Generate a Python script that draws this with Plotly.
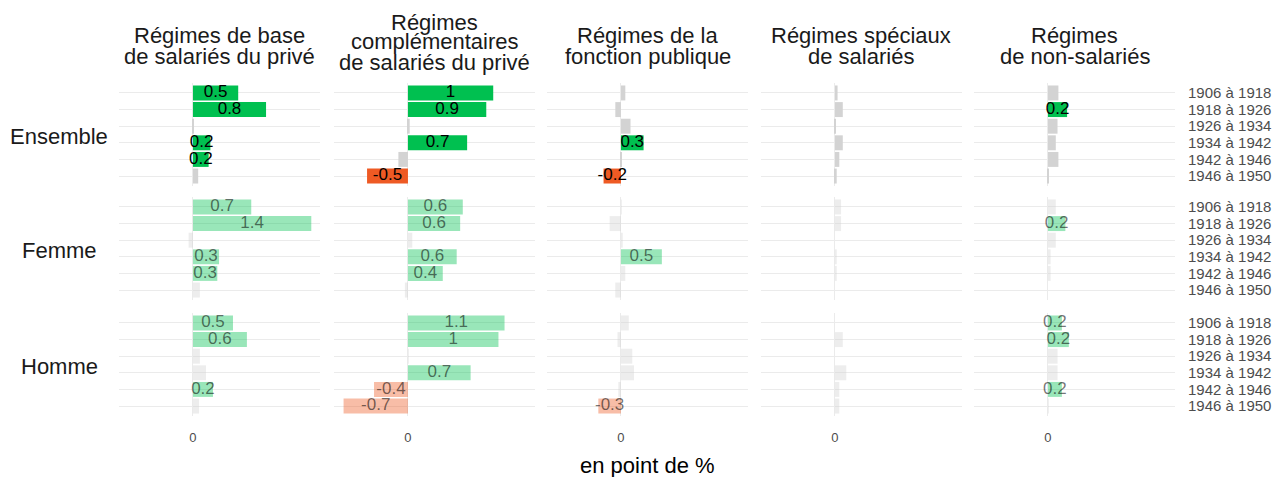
import plotly.graph_objects as go

generations = ["1906 à 1918", "1918 à 1926", "1926 à 1934", "1934 à 1942", "1942 à 1946", "1946 à 1950"]
regimes = ["Régimes de base\nde salariés du privé",
           "Régimes\ncomplémentaires\nde salariés du privé",
           "Régimes de la\nfonction publique",
           "Régimes spéciaux\nde salariés",
           "Régimes\nde non-salariés"]
groups = ["Ensemble", "Femme", "Homme"]

# values (en point de %) per group, per regime, per generation
ens_base = [0.52, 0.84, 0.01, 0.20, 0.18, 0.06]
ens_compl = [0.98, 0.90, 0.02, 0.68, -0.11, -0.47]
ens_fp = [0.05, -0.065, 0.11, 0.26, 0.01, -0.20]
ens_spec = [0.03, 0.09, 0.005, 0.09, 0.05, 0.02]
ens_ns = [0.12, 0.22, 0.11, 0.09, 0.12, 0.01]

fem_base = [0.67, 1.36, -0.05, 0.30, 0.28, 0.08]
fem_compl = [0.63, 0.60, 0.05, 0.56, 0.40, -0.035]
fem_fp = [0.01, -0.13, 0.02, 0.47, 0.05, -0.065]
fem_spec = [0.07, 0.07, 0.0, 0.02, 0.02, 0.0]
fem_ns = [0.09, 0.20, 0.09, 0.03, 0.03, 0.0]

hom_base = [0.46, 0.62, 0.08, 0.15, 0.23, 0.07]
hom_compl = [1.11, 1.04, 0.01, 0.72, -0.39, -0.74]
hom_fp = [0.09, -0.04, 0.13, 0.15, -0.03, -0.26]
hom_spec = [0.0, 0.09, 0.0, 0.13, 0.05, 0.05]
hom_ns = [0.16, 0.24, 0.11, 0.11, 0.16, 0.01]

# significance flags (1 = significant)
ens_base_sig = [1, 1, 0, 1, 1, 0]
ens_compl_sig = [1, 1, 0, 1, 0, 1]
ens_fp_sig = [0, 0, 0, 1, 0, 1]
ens_spec_sig = [0, 0, 0, 0, 0, 0]
ens_ns_sig = [0, 1, 0, 0, 0, 0]

fem_base_sig = [1, 1, 0, 1, 1, 0]
fem_compl_sig = [1, 1, 0, 1, 1, 0]
fem_fp_sig = [0, 0, 0, 1, 0, 0]
fem_spec_sig = [0, 0, 0, 0, 0, 0]
fem_ns_sig = [0, 1, 0, 0, 0, 0]

hom_base_sig = [1, 1, 0, 0, 1, 0]
hom_compl_sig = [1, 1, 0, 1, 1, 1]
hom_fp_sig = [0, 0, 0, 0, 0, 1]
hom_spec_sig = [0, 0, 0, 0, 0, 0]
hom_ns_sig = [1, 1, 0, 0, 1, 0]

values = [
    [ens_base, ens_compl, ens_fp, ens_spec, ens_ns],
    [fem_base, fem_compl, fem_fp, fem_spec, fem_ns],
    [hom_base, hom_compl, hom_fp, hom_spec, hom_ns],
]
signif = [
    [ens_base_sig, ens_compl_sig, ens_fp_sig, ens_spec_sig, ens_ns_sig],
    [fem_base_sig, fem_compl_sig, fem_fp_sig, fem_spec_sig, fem_ns_sig],
    [hom_base_sig, hom_compl_sig, hom_fp_sig, hom_spec_sig, hom_ns_sig],
]

W, H = 1285, 477
FONT = "Liberation Sans, Arial, sans-serif"
alphas = [1.0, 0.4, 0.4]
GREEN = (0, 192, 80)
RED = (238, 90, 36)
GRAY = (211, 211, 211)

col_left = [119, 334, 547, 761, 974]
col_w = 201
row_top = [83, 197, 313]
row_h = 103

def rgba(c, a):
    return f"rgba({c[0]},{c[1]},{c[2]},{a})"

def fmt(v):
    return f"{round(v, 1):g}"

fig = go.Figure()
layout = {}
for r in range(3):
    for c in range(5):
        k = r * 5 + c + 1
        xa = "x" if k == 1 else f"x{k}"
        ya = "y" if k == 1 else f"y{k}"
        vals = values[r][c]
        sig = signif[r][c]
        a = alphas[r]
        colors = []
        for v, s in zip(vals, sig):
            if s and v > 0:
                colors.append(rgba(GREEN, a))
            elif s and v < 0:
                colors.append(rgba(RED, a))
            else:
                colors.append(rgba(GRAY, a))
        fig.add_trace(go.Bar(x=vals, y=generations, orientation="h",
                             marker=dict(color=colors, line=dict(width=0)),
                             width=0.9, xaxis=xa, yaxis=ya,
                             hoverinfo="skip", showlegend=False))
        tx = [v / 2 for v, s in zip(vals, sig) if s]
        ty = [g for g, s in zip(generations, sig) if s]
        tt = [fmt(v) for v, s in zip(vals, sig) if s]
        fig.add_trace(go.Scatter(x=tx, y=ty, text=tt, mode="text",
                                 textposition="middle center",
                                 textfont=dict(size=17, family=FONT,
                                               color="#000000" if r == 0 else "rgba(0,0,0,0.55)"),
                                 xaxis=xa, yaxis=ya, hoverinfo="skip", showlegend=False))
        x0 = col_left[c] / W
        x1 = (col_left[c] + col_w) / W
        y1 = 1 - row_top[r] / H
        y0 = 1 - (row_top[r] + row_h) / H
        layout["xaxis" if k == 1 else f"xaxis{k}"] = dict(
            domain=[x0, x1], anchor=ya, range=[-0.85, 1.46],
            tickmode="array", tickvals=[0], ticktext=["0"],
            showgrid=True, gridcolor="#EBEBEB",
            gridwidth=1.1, zeroline=False, showline=False, ticks="",
            showticklabels=(r == 2), ticklabelstandoff=12,
            tickfont=dict(size=13, family=FONT, color="#4D4D4D"), fixedrange=True)
        layout["yaxis" if k == 1 else f"yaxis{k}"] = dict(
            domain=[y0, y1], anchor=xa, type="category",
            categoryorder="array", categoryarray=generations,
            tickmode="array", tickvals=generations, ticktext=generations,
            range=[5.6, -0.6], showgrid=True, gridcolor="#EBEBEB", gridwidth=1.1,
            zeroline=False, showline=False, ticks="",
            side="right", showticklabels=(c == 4), ticklabelstandoff=12,
            tickfont=dict(size=15, family=FONT, color="#4D4D4D"), fixedrange=True)

annotations = []
# column titles
for c, title in enumerate(regimes):
    lines = title.split("\n")
    n = len(lines)
    cx = (col_left[c] + col_w / 2) / W
    for i, line in enumerate(lines):
        cy = 46 - 4 * (n - 2) + (i - (n - 1) / 2) * 20
        annotations.append(dict(text=line, x=cx, y=1 - cy / H, xref="paper", yref="paper",
                                xanchor="center", yanchor="middle", showarrow=False,
                                font=dict(size=22, family=FONT, color="#1A1A1A")))
# row labels
for r, g in enumerate(groups):
    cy = row_top[r] + row_h / 2 + 2
    annotations.append(dict(text=g, x=59 / W, y=1 - cy / H, xref="paper", yref="paper",
                            xanchor="center", yanchor="middle", showarrow=False,
                            font=dict(size=22, family=FONT, color="#1A1A1A")))
# x axis title
annotations.append(dict(text="en point de %", x=(col_left[0] + col_left[4] + col_w) / 2 / W,
                        y=1 - 465 / H, xref="paper", yref="paper",
                        xanchor="center", yanchor="middle", showarrow=False,
                        font=dict(size=22, family=FONT, color="#000000")))

fig.update_layout(width=W, height=H, margin=dict(l=0, r=0, t=0, b=0),
                  paper_bgcolor="white", plot_bgcolor="white",
                  annotations=annotations, barmode="overlay", **layout)
fig.write_html("out.html", config={"displayModeBar": False},
               post_script="document.body.style.margin='0px';document.body.style.overflow='hidden';")
